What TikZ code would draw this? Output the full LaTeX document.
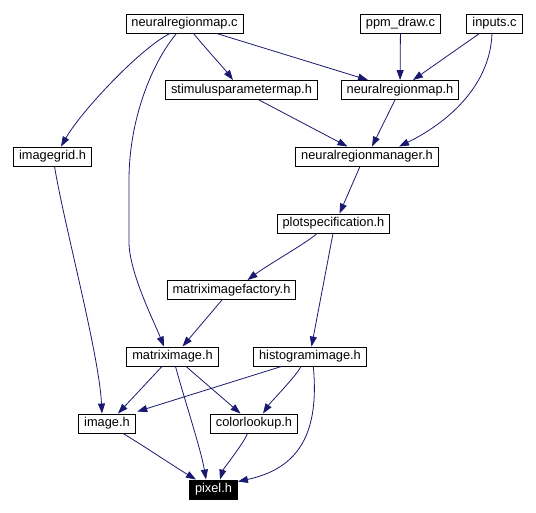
\documentclass[tikz,border=0pt]{standalone}
\usepackage{fontspec}
\setmainfont{Liberation Sans}
\usepackage{tikz}
\usetikzlibrary{arrows.meta}
\definecolor{edgeblue}{RGB}{25,25,112}

\begin{document}
\begin{tikzpicture}[x=1pt, y=-1pt,
		filebox/.style={draw=black, line width=0.9pt, rectangle, minimum height=19pt,
			inner xsep=5.5pt, inner ysep=0pt, font=\fontsize{12.8}{14}\selectfont},
		curfile/.style={filebox, fill=black, text=white},
		incl/.style={draw=edgeblue, line width=0.8pt, -{Triangle[length=10pt,width=7pt]}}]
		\useasboundingbox (0,0) rectangle (536,513);
		% files
		\node[filebox] (nrmc) at (184.5,23.5) {neuralregionmap.c};
		\node[filebox] (ppm) at (400.5,23.5) {ppm\_draw.c};
		\node[filebox] (inputs) at (494.5,23.5) {inputs.c};
		\node[filebox] (stimh) at (241.5,90) {stimulusparametermap.h};
		\node[filebox] (nrmh) at (400,90) {neuralregionmap.h};
		\node[filebox] (gridh) at (52.5,156.5) {imagegrid.h};
		\node[filebox] (mgrh) at (367,156.5) {neuralregionmanager.h};
		\node[filebox] (plot) at (333.5,223.5) {plotspecification.h};
		\node[filebox] (factory) at (231.5,290) {matriximagefactory.h};
		\node[filebox] (mimg) at (172.5,356.5) {matriximage.h};
		\node[filebox] (hist) at (310,356.5) {histogramimage.h};
		\node[filebox] (img) at (107,423.5) {image.h};
		\node[filebox] (clut) at (254,423.5) {colorlookup.h};
		\node[curfile] (pixel) at (213.5,489.5) {pixel.h};
		% includes
		\draw[incl] ([xshift=-14.5pt]nrmc.south) .. controls +(-30,15) and +(20,-35) .. ([xshift=8.5pt]gridh.north);
		\draw[incl] ([xshift=-8pt]nrmc.south) .. controls +(-25,30) and +(0,-60) .. (129,180) -- (129,242)
			.. controls +(0,30) and +(-10,-25) .. ([xshift=-8.5pt]mimg.north);
		\draw[incl] ([xshift=9pt]nrmc.south) .. controls +(8,10) and +(-6,-8) .. ([xshift=-8.5pt]stimh.north);
		\draw[incl] ([xshift=32pt]nrmc.south) -- ([xshift=-32pt]nrmh.north);
		\draw[incl] (ppm) -- (nrmh);
		\draw[incl] ([xshift=-15pt]inputs.south) -- ([xshift=13pt]nrmh.north);
		\draw[incl] ([xshift=-2.5pt]inputs.south) .. controls +(-2,55) and +(45,-22) .. ([xshift=32pt]mgrh.north);
		\draw[incl] ([xshift=17.5pt]stimh.south) -- ([xshift=-19.5pt]mgrh.north);
		\draw[incl] ([xshift=-5pt]nrmh.south) -- ([xshift=5pt]mgrh.north);
		\draw[incl] ([xshift=-7pt]mgrh.south) -- ([xshift=6pt]plot.north);
		\draw[incl] ([xshift=2pt]gridh.south) .. controls +(10,60) and +(-3,-60) .. ([xshift=-5pt]img.north);
		\draw[incl] ([xshift=-16.5pt]plot.south) .. controls +(-8,8) and +(20,-15) .. ([xshift=16pt]factory.north);
		\draw[incl] ([xshift=-0.5pt]plot.south) -- ([xshift=1.5pt]hist.north);
		\draw[incl] ([xshift=-9.5pt]factory.south) -- ([xshift=10pt]mimg.north);
		\draw[incl] ([xshift=-10.5pt]mimg.south) -- ([xshift=11pt]img.north);
		\draw[incl] ([xshift=3pt]mimg.south) .. controls +(8,30) and +(-5,-30) .. ([xshift=-7.5pt]pixel.north);
		\draw[incl] ([xshift=13.5pt]mimg.south) -- ([xshift=-13.5pt]clut.north);
		\draw[incl] ([xshift=-28.5pt]hist.south) -- ([xshift=1.5pt,yshift=2pt]img.north east);
		\draw[incl] ([xshift=-9pt]hist.south) .. controls +(-5,10) and +(8,-12) .. ([xshift=9pt]clut.north);
		\draw[incl] ([xshift=3.3pt]hist.south) .. controls +(7,74) and +(55,-12) .. ([yshift=-2pt]pixel.north east);
		\draw[incl] ([xshift=16pt]img.south) .. controls +(20,12) and +(-20,-12) .. ([xshift=-17.5pt]pixel.north);
		\draw[incl] ([xshift=-6.5pt]clut.south) .. controls +(-4,10) and +(3,-10) .. ([xshift=6.5pt]pixel.north);
	\end{tikzpicture}
\end{document}
